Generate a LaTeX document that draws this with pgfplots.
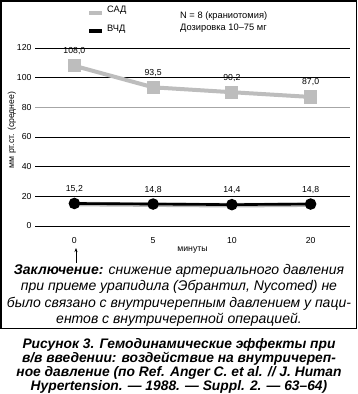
\documentclass[border=0pt]{standalone}
\usepackage{pgfplots}
\pgfplotsset{compat=1.18}
\usepackage{pgfplotstable}
\usetikzlibrary{arrows.meta}
\usepackage{fontspec}
\setmainfont{Liberation Sans}
\definecolor{sad}{HTML}{BDBDBD}
\pgfplotstableread{
x y label
0 108.0 108,0
1 93.5 93,5
2 90.2 90,2
3 87.0 87,0
}\sad
\pgfplotstableread{
x y label
0 15.2 15,2
1 14.8 14,8
2 14.4 14,4
3 14.8 14,8
}\vchd
\begin{document}
\begin{tikzpicture}
\useasboundingbox (0pt,0pt) rectangle (358pt,-394pt);
\begin{axis}[
  at={(35pt,-226pt)}, anchor=south west,
  scale only axis, width=315pt, height=178pt,
  xmin=-0.5, xmax=3.5, ymin=0, ymax=120,
  axis line style={draw=none},
  major tick length=0pt,
  ytick={0,20,...,120},
  xtick={0,1,2,3}, xticklabels={0,5,10,20},
  ymajorgrids, grid style={black, line width=0.7pt},
  /pgf/number format/assume math mode=true,
  tick label style={font=\fontsize{8.7}{10}\selectfont},
  xticklabel style={yshift=-8pt},
  xlabel={минуты},
  xlabel style={at={(axis cs:1.5,0)}, anchor=center, yshift=-24pt, font=\fontsize{8.7}{10}\selectfont},
  clip=false,
  lbl/.style={nodes near coords, point meta=explicit symbolic,
    every node near coord/.append style={anchor=center, yshift=14.5pt, text=black, font=\fontsize{8.7}{10}\selectfont}},
]
\draw[gray!70, line width=0.7pt] (axis cs:-0.5,80) -- (axis cs:3.5,80);
\addplot[sad, line width=4pt, mark=square*, mark size=4.6pt, mark options={solid}, lbl] table[x=x,y=y,meta=label] {\sad};
\addplot[gray!55, line width=4.5pt, forget plot, yshift=-0.6pt] table[x=x,y=y] {\vchd};
\addplot[black, line width=2.6pt, mark=*, mark size=4.4pt, lbl] table[x=x,y=y,meta=label] {\vchd};
\end{axis}
\draw[-{Stealth[length=4pt,width=3pt]}, line width=0.6pt] (76pt,-263pt) -- (76pt,-248pt);
\node[rotate=90, font=\fontsize{8.7}{10}\selectfont] at (12pt,-130pt) {мм рт.ст. (среднее)};
% legend
\fill[sad] (89pt,-10.5pt) rectangle (102pt,-15pt);
\node[anchor=west, font=\fontsize{9.3}{10}\selectfont, inner sep=0pt] at (107pt,-10.5pt) {САД};
\fill[black] (89pt,-28.5pt) rectangle (102pt,-33pt);
\node[anchor=west, font=\fontsize{9.3}{10}\selectfont, inner sep=0pt] at (107pt,-29pt) {ВЧД};
\node[anchor=west, font=\fontsize{9.3}{10}\selectfont, inner sep=0pt] at (180pt,-16pt) {N = 8 (краниотомия)};
\node[anchor=west, font=\fontsize{9.3}{10}\selectfont, inner sep=0pt] at (180pt,-28pt) {Дозировка 10–75 мг};
% conclusion
\node[align=center, inner sep=0pt, font=\fontsize{14}{16.4}\selectfont\itshape] at (179pt,-295.5pt)
 {\textbf{Заключение:} снижение артериального давления\\ при приеме урапидила (Эбрантил, Nycomed) не\\ было связано с внутричерепным давлением у паци-\\ентов с внутричерепной операцией.};
\node[align=center, inner sep=0pt, font=\fontsize{13.8}{14}\selectfont\bfseries\itshape] at (179pt,-365.5pt)
 {Рисунок 3. Гемодинамические эффекты при\\ в/в введении: воздействие на внутричереп-\\ ное давление (по Ref. Anger C. et al. // J. Human\\ Hypertension. — 1988. — Suppl. 2. — 63–64)};
\draw[draw=black, line width=1.4pt] (1pt,-1pt) rectangle (356.3pt,-328.5pt);
\end{tikzpicture}
\end{document}
